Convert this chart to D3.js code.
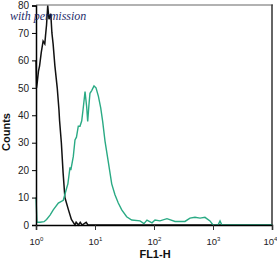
<!DOCTYPE html>
<html>
<head>
<meta charset="utf-8">
<script src="https://cdn.jsdelivr.net/npm/d3@7"></script>
<style>
  body { margin: 0; background: #fff; }
  svg { display: block; }
</style>
</head>
<body>
<div id="chart"></div>
<script>
var WIDTH = 277, HEIGHT = 264;

// 値は画像から読み取り
var yTicks = [0, 10, 20, 30, 40, 50, 60, 70, 80];
var xTicks = [1, 10, 100, 1000, 10000];
var xTickExp = ["0", "1", "2", "3", "4"];

// コントロール（黒）
var ctrlX = [1.00, 1.02, 1.05, 1.10, 1.15, 1.23, 1.32, 1.41, 1.45, 1.51, 1.58, 1.66, 1.78, 1.86, 1.95, 2.09,
  2.29, 2.45, 2.51, 2.69, 2.88, 3.09, 3.55, 3.98, 4.57, 4.79, 5.25, 5.62, 6.03, 7.08, 7.59, 10000];
var ctrlY = [60, 50, 52, 56, 58, 63, 67, 66, 69, 73, 80, 75, 77, 70, 66, 58,
  50, 42, 38, 30, 19, 10, 5.5, 2, 0, 1, 0, 1, 0, 1, 0, 0];

// 染色サンプル（緑）
var stainX = [1.00, 1.04, 1.17, 1.37, 1.51, 1.73, 1.96, 2.39, 2.90, 3.31, 3.47, 3.77, 3.89, 4.29, 4.58, 4.85,
  5.21, 5.57, 5.96, 6.27, 6.78, 7.23, 7.52, 7.91, 8.22, 8.79, 9.62, 10.4, 11.4, 12.5, 13.5, 14.8,
  16.8, 19.2, 21.8, 24.8, 28.4, 34.4, 41.9, 57.9, 67.6, 76.0, 92.5, 104, 126, 166,
  227, 335, 407, 495, 603, 731, 889, 1000, 1216, 1315, 1413, 10000];
var stainY = [10, 1, 1, 1.2, 2, 3.6, 5.5, 8, 9, 13.5, 15, 21, 20, 25, 31, 32,
  36, 36, 38, 42, 48.6, 43, 37.7, 44, 48, 49, 50.7, 50, 47, 42.7, 37.7, 30.5,
  23, 15, 11, 8, 5.5, 3, 1.8, 1.5, 0.5, 1.8, 0.8, 1.8, 1.5, 2.3,
  1.3, 1.3, 2.5, 2.8, 2.5, 2.8, 1.5, 0, 0, 1.5, 0, 0];

var L = 36, R = 272, T = 5.5, B = 225;
var tickFont = "'Liberation Sans Narrow', 'Liberation Sans', Arial, sans-serif";

var svg = d3.select("#chart").append("svg")
  .attr("width", WIDTH).attr("height", HEIGHT)
  .style("font-family", "'Liberation Sans', Arial, sans-serif");

var x = d3.scaleLog().domain([1, 10000]).range([L, R]);
var y = d3.scaleLinear().domain([0, 80]).range([B, T]);

// 枠（上：灰色、右：濃い灰色）
svg.append("line").attr("x1", L).attr("x2", R + 1).attr("y1", T - 0.5).attr("y2", T - 0.5)
  .attr("stroke", "#999").attr("stroke-width", 1.5);
svg.append("line").attr("x1", R).attr("x2", R).attr("y1", T - 1).attr("y2", B)
  .attr("stroke", "#333").attr("stroke-width", 1.5);

var line = d3.line()
  .x(function(d) { return x(d[0]); })
  .y(function(d) { return y(d[1]); });

svg.append("path")
  .datum(d3.zip(ctrlX, ctrlY))
  .attr("d", line)
  .attr("fill", "none").attr("stroke", "#111").attr("stroke-width", 1.5);

svg.append("path")
  .datum(d3.zip(stainX, stainY))
  .attr("d", line)
  .attr("fill", "none").attr("stroke", "#2aaa84").attr("stroke-width", 1.4);

// Y軸
var yAxis = svg.append("g")
  .attr("transform", "translate(" + L + ",0)")
  .call(d3.axisLeft(y).tickValues(yTicks).tickSize(4).tickPadding(3));
yAxis.select(".domain").attr("stroke", "#000").attr("stroke-width", 1.5);
yAxis.selectAll("text").attr("font-size", 10).attr("fill", "#222").attr("font-family", tickFont);

// X軸
var xAxis = svg.append("g")
  .attr("transform", "translate(0," + B + ")")
  .call(d3.axisBottom(x).tickValues(xTicks).tickSize(5).tickPadding(8).tickFormat(function() { return ""; }));
xAxis.select(".domain").attr("stroke", "#000").attr("stroke-width", 1.5);
xAxis.selectAll(".tick line").attr("stroke", "#333");
xAxis.selectAll(".tick text").each(function(d, i) {
  var t = d3.select(this).attr("font-size", 9.5).attr("fill", "#222").attr("font-family", tickFont);
  if (i === xTicks.length - 1) t.attr("x", -2);
  t.append("tspan").text("10");
  t.append("tspan").attr("font-size", 6).attr("dy", -4).text(xTickExp[i]);
});

// 軸ラベル
svg.append("text")
  .attr("x", 155).attr("y", 258)
  .attr("text-anchor", "middle")
  .attr("font-size", 11).attr("font-weight", "bold").attr("fill", "#111")
  .text("FL1-H");

svg.append("text")
  .attr("transform", "translate(9.5,132) rotate(-90)")
  .attr("text-anchor", "middle")
  .attr("font-size", 11).attr("font-weight", "bold").attr("fill", "#111")
  .text("Counts");

// 透かし
svg.append("text")
  .attr("x", 10).attr("y", 19.5)
  .attr("font-family", "'Liberation Serif', 'DejaVu Serif', serif")
  .attr("font-style", "italic").attr("font-size", 12).attr("fill", "#1f2d6b")
  .text("with permission");
</script>
</body>
</html>
